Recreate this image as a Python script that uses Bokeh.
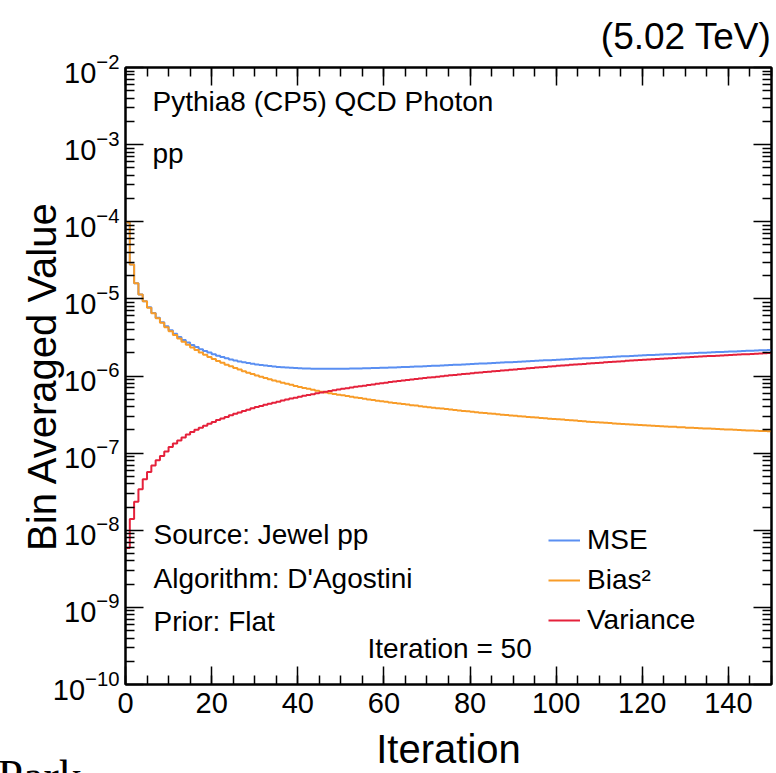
from bokeh.plotting import figure
from bokeh.models import (FixedTicker, SingleIntervalTicker, LinearAxis, LogAxis,
                          Label, Legend, LegendItem, Range1d, LogTickFormatter,
                          CustomJSTickFormatter, Title)
from bokeh.embed import file_html
from bokeh.resources import INLINE

# ---------------- data ----------------
iteration_edges = list(range(0, 151))   # 150 unit-wide iteration bins

bias2 = [9.8e-5, 2.8e-5, 1.6e-5, 1.14e-5, 9.3e-6, 7.7e-6, 6.5e-6, 5.6e-6, 4.9e-6, 4.3e-6,
         3.8e-6, 3.395e-6, 3.062e-6, 2.784e-6, 2.548e-6, 2.346e-6, 2.171e-6, 2.019e-6, 1.885e-6, 1.766e-6,
         1.660e-6, 1.565e-6, 1.480e-6, 1.403e-6, 1.333e-6, 1.269e-6, 1.210e-6, 1.156e-6, 1.106e-6, 1.060e-6,
         1.018e-6, 9.79e-7, 9.43e-7, 9.09e-7, 8.77e-7, 8.47e-7, 8.19e-7, 7.93e-7, 7.68e-7, 7.44e-7,
         7.22e-7, 7.01e-7, 6.81e-7, 6.62e-7, 6.44e-7, 6.27e-7, 6.13e-7, 5.99e-7, 5.85e-7, 5.73e-7,
         5.61e-7, 5.49e-7, 5.38e-7, 5.27e-7, 5.17e-7, 5.06e-7, 4.97e-7, 4.88e-7, 4.79e-7, 4.70e-7,
         4.62e-7, 4.54e-7, 4.47e-7, 4.39e-7, 4.32e-7, 4.26e-7, 4.19e-7, 4.13e-7, 4.06e-7, 4.00e-7,
         3.94e-7, 3.89e-7, 3.83e-7, 3.78e-7, 3.72e-7, 3.67e-7, 3.62e-7, 3.58e-7, 3.53e-7, 3.48e-7,
         3.44e-7, 3.39e-7, 3.35e-7, 3.31e-7, 3.27e-7, 3.23e-7, 3.19e-7, 3.15e-7, 3.12e-7, 3.08e-7,
         3.05e-7, 3.01e-7, 2.98e-7, 2.95e-7, 2.92e-7, 2.89e-7, 2.86e-7, 2.83e-7, 2.80e-7, 2.77e-7,
         2.74e-7, 2.72e-7, 2.69e-7, 2.66e-7, 2.64e-7, 2.61e-7, 2.59e-7, 2.56e-7, 2.54e-7, 2.52e-7,
         2.50e-7, 2.47e-7, 2.45e-7, 2.43e-7, 2.41e-7, 2.39e-7, 2.37e-7, 2.35e-7, 2.33e-7, 2.31e-7,
         2.29e-7, 2.28e-7, 2.26e-7, 2.25e-7, 2.23e-7, 2.22e-7, 2.20e-7, 2.19e-7, 2.17e-7, 2.16e-7,
         2.14e-7, 2.13e-7, 2.12e-7, 2.10e-7, 2.09e-7, 2.08e-7, 2.07e-7, 2.05e-7, 2.04e-7, 2.03e-7,
         2.02e-7, 2.01e-7, 1.99e-7, 1.98e-7, 1.97e-7, 1.96e-7, 1.95e-7, 1.94e-7, 1.93e-7, 1.92e-7]

variance = [5.9e-9, 1.4e-8, 2.35e-8, 3.4e-8, 4.6e-8, 5.7e-8, 6.9e-8, 8.1e-8, 9.2e-8, 1.05e-7,
            1.20e-7, 1.33e-7, 1.46e-7, 1.60e-7, 1.75e-7, 1.88e-7, 2.01e-7, 2.14e-7, 2.27e-7, 2.41e-7,
            2.54e-7, 2.68e-7, 2.82e-7, 2.95e-7, 3.09e-7, 3.23e-7, 3.37e-7, 3.52e-7, 3.66e-7, 3.81e-7,
            3.95e-7, 4.09e-7, 4.23e-7, 4.37e-7, 4.51e-7, 4.65e-7, 4.80e-7, 4.94e-7, 5.09e-7, 5.23e-7,
            5.38e-7, 5.53e-7, 5.67e-7, 5.82e-7, 5.97e-7, 6.12e-7, 6.26e-7, 6.40e-7, 6.53e-7, 6.67e-7,
            6.81e-7, 6.95e-7, 7.09e-7, 7.23e-7, 7.37e-7, 7.50e-7, 7.64e-7, 7.78e-7, 7.92e-7, 8.06e-7,
            8.20e-7, 8.33e-7, 8.46e-7, 8.60e-7, 8.73e-7, 8.86e-7, 9.00e-7, 9.13e-7, 9.26e-7, 9.39e-7,
            9.53e-7, 9.66e-7, 9.79e-7, 9.93e-7, 1.006e-6, 1.019e-6, 1.032e-6, 1.046e-6, 1.059e-6, 1.072e-6,
            1.085e-6, 1.098e-6, 1.112e-6, 1.125e-6, 1.138e-6, 1.151e-6, 1.164e-6, 1.178e-6, 1.191e-6, 1.204e-6,
            1.217e-6, 1.231e-6, 1.245e-6, 1.258e-6, 1.272e-6, 1.285e-6, 1.299e-6, 1.313e-6, 1.326e-6, 1.340e-6,
            1.354e-6, 1.367e-6, 1.381e-6, 1.395e-6, 1.408e-6, 1.422e-6, 1.435e-6, 1.449e-6, 1.463e-6, 1.476e-6,
            1.490e-6, 1.504e-6, 1.517e-6, 1.531e-6, 1.545e-6, 1.558e-6, 1.572e-6, 1.586e-6, 1.600e-6, 1.613e-6,
            1.626e-6, 1.638e-6, 1.651e-6, 1.663e-6, 1.676e-6, 1.688e-6, 1.700e-6, 1.713e-6, 1.725e-6, 1.738e-6,
            1.750e-6, 1.762e-6, 1.774e-6, 1.787e-6, 1.799e-6, 1.811e-6, 1.823e-6, 1.836e-6, 1.848e-6, 1.860e-6,
            1.872e-6, 1.884e-6, 1.896e-6, 1.909e-6, 1.921e-6, 1.933e-6, 1.945e-6, 1.957e-6, 1.969e-6, 1.981e-6]

mse = [9.80e-5, 2.80e-5, 1.60e-5, 1.143e-5, 9.35e-6, 7.76e-6, 6.57e-6, 5.68e-6, 4.99e-6, 4.41e-6,
       3.92e-6, 3.53e-6, 3.21e-6, 2.94e-6, 2.72e-6, 2.53e-6, 2.37e-6, 2.23e-6, 2.11e-6, 2.01e-6,
       1.91e-6, 1.833e-6, 1.762e-6, 1.698e-6, 1.642e-6, 1.592e-6, 1.547e-6, 1.508e-6, 1.472e-6, 1.441e-6,
       1.413e-6, 1.388e-6, 1.366e-6, 1.346e-6, 1.328e-6, 1.312e-6, 1.299e-6, 1.287e-6, 1.277e-6, 1.267e-6,
       1.260e-6, 1.254e-6, 1.248e-6, 1.244e-6, 1.241e-6, 1.239e-6, 1.239e-6, 1.239e-6, 1.238e-6, 1.240e-6,
       1.242e-6, 1.244e-6, 1.247e-6, 1.250e-6, 1.254e-6, 1.256e-6, 1.261e-6, 1.266e-6, 1.271e-6, 1.276e-6,
       1.282e-6, 1.287e-6, 1.293e-6, 1.299e-6, 1.305e-6, 1.312e-6, 1.319e-6, 1.326e-6, 1.332e-6, 1.339e-6,
       1.347e-6, 1.355e-6, 1.362e-6, 1.371e-6, 1.378e-6, 1.386e-6, 1.394e-6, 1.404e-6, 1.412e-6, 1.420e-6,
       1.429e-6, 1.437e-6, 1.447e-6, 1.456e-6, 1.465e-6, 1.474e-6, 1.483e-6, 1.493e-6, 1.503e-6, 1.512e-6,
       1.522e-6, 1.532e-6, 1.543e-6, 1.553e-6, 1.564e-6, 1.574e-6, 1.585e-6, 1.596e-6, 1.606e-6, 1.617e-6,
       1.628e-6, 1.639e-6, 1.650e-6, 1.661e-6, 1.672e-6, 1.683e-6, 1.694e-6, 1.705e-6, 1.717e-6, 1.728e-6,
       1.740e-6, 1.751e-6, 1.762e-6, 1.774e-6, 1.786e-6, 1.797e-6, 1.809e-6, 1.821e-6, 1.833e-6, 1.844e-6,
       1.855e-6, 1.866e-6, 1.877e-6, 1.888e-6, 1.899e-6, 1.910e-6, 1.920e-6, 1.932e-6, 1.942e-6, 1.954e-6,
       1.964e-6, 1.975e-6, 1.986e-6, 1.997e-6, 2.008e-6, 2.019e-6, 2.030e-6, 2.041e-6, 2.052e-6, 2.063e-6,
       2.074e-6, 2.085e-6, 2.095e-6, 2.107e-6, 2.118e-6, 2.129e-6, 2.140e-6, 2.151e-6, 2.162e-6, 2.173e-6]

series_names = ["MSE", "Bias\u00b2", "Variance"]
series_colors = ["#5a8ff2", "#f89c28", "#e5213b"]

y_decades = [-10, -9, -8, -7, -6, -5, -4, -3, -2]

# ---------------- figure ----------------
FONT = "Liberation Sans"
X0, X1 = 0, 150
Y0, Y1 = 1e-10, 1e-2

p = figure(width=776, height=773, x_range=Range1d(X0, X1), y_range=Range1d(Y0, Y1),
           y_axis_type="log", output_backend="svg", toolbar_location=None,
           min_border_left=125, min_border_right=5, min_border_top=67, min_border_bottom=86)
p.xgrid.visible = False
p.ygrid.visible = False
p.outline_line_color = "black"
p.outline_line_width = 2
p.background_fill_color = "white"
p.border_fill_color = "white"

major_y = [10.0 ** e for e in y_decades]
minor_y = [m * 10.0 ** e for e in y_decades[:-1] for m in range(2, 10)]
yticker = FixedTicker(ticks=major_y, minor_ticks=minor_y)
xticker = SingleIntervalTicker(interval=20, num_minor_ticks=4)


def style_axis(ax, size="29px"):
    ax.axis_line_color = "black"
    ax.axis_line_width = 2
    ax.major_tick_in = 18
    ax.major_tick_out = 0
    ax.minor_tick_in = 9
    ax.minor_tick_out = 0
    ax.major_tick_line_color = "black"
    ax.minor_tick_line_color = "black"
    ax.major_tick_line_width = 1.5
    ax.minor_tick_line_width = 1.5
    ax.major_label_text_font = FONT
    ax.major_label_text_color = "black"
    ax.major_label_text_font_size = size


def style_title(ax, text, standoff):
    ax.axis_label = text
    ax.axis_label_text_font = FONT
    ax.axis_label_text_font_size = "40px"
    ax.axis_label_text_font_style = "normal"
    ax.axis_label_text_color = "black"
    ax.axis_label_standoff = standoff


xa = p.xaxis[0]
xa.ticker = xticker
style_axis(xa)
xa.major_label_standoff = 8
style_title(xa, "Iteration", 11)

ya = p.yaxis[0]
ya.ticker = yticker
ya.formatter = LogTickFormatter()
style_axis(ya)
ya.major_label_standoff = 6
style_title(ya, "Bin Averaged Value", -14)

# mirrored tick marks on the top and right frame edges (no labels)
blank = CustomJSTickFormatter(code="return ''")
top = LinearAxis(ticker=xticker, formatter=blank)
style_axis(top, size="1px")
top.major_label_standoff = 0
p.add_layout(top, "above")
right = LogAxis(ticker=yticker, formatter=blank)
style_axis(right, size="1px")
right.major_label_standoff = 0
p.add_layout(right, "right")

# energy label above the frame, right-aligned
p.add_layout(Title(text="(5.02 TeV)", align="right", text_font=FONT, text_font_size="37px",
                   text_font_style="normal", text_color="black", standoff=21), "above")

# fragment of neighbouring text cut by the lower edge
p.add_layout(Title(text="Park", align="left", vertical_align="bottom", offset=-128,
                   text_font="Liberation Serif", text_font_size="46px",
                   text_font_style="normal", text_color="black", standoff=-56), "below")

# ---------------- histograms (step outlines) ----------------
renderers = []
for vals, col in zip([mse, bias2, variance], series_colors):
    r = p.step(x=iteration_edges, y=vals + [vals[-1]], mode="after",
               line_color=col, line_width=2)
    renderers.append(r)

legend = Legend(items=[LegendItem(label=n, renderers=[r]) for n, r in zip(series_names, renderers)],
                location=(423, 48), orientation="vertical",
                label_text_font=FONT, label_text_font_size="28px", label_text_color="black",
                glyph_width=32, glyph_height=32, label_height=32, label_standoff=7,
                spacing=8, padding=0, margin=0,
                border_line_color=None, background_fill_alpha=0)
p.add_layout(legend, "center")


# ---------------- text annotations inside the frame ----------------
def xd(px):
    return X0 + (px - 125) * (X1 - X0) / 646.0


def yd(px):
    return 10 ** (-10 + (687 - px) / 77.5)


def add_text(text, px, py, size="28px"):
    p.add_layout(Label(x=xd(px), y=yd(py), text=text, text_font=FONT, text_font_size=size,
                       text_align="left", text_baseline="middle", text_color="black"))


add_text("Pythia8 (CP5) QCD Photon", 152, 101)
add_text("pp", 152, 153)
add_text("Source: Jewel pp", 153, 536)
add_text("Algorithm: D'Agostini", 153, 580)
add_text("Prior: Flat", 153, 624)
add_text("Iteration = 50", 367, 651)

open("out.html", "w").write(file_html(p, INLINE))
